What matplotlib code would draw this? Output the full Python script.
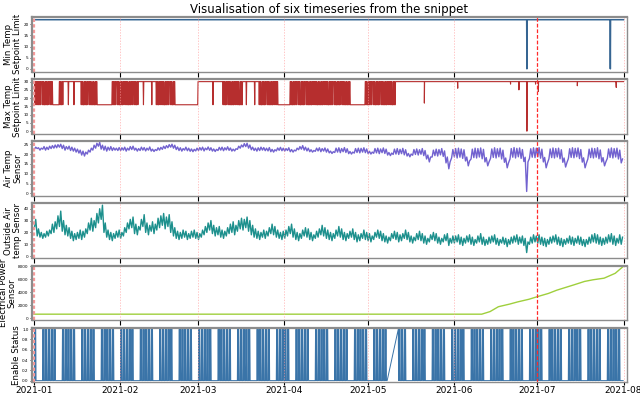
import numpy as np
import pandas as pd
import matplotlib
matplotlib.use("Agg")
import matplotlib.pyplot as plt
import matplotlib.dates as mdates

# ---- data (Jan 1 2021 .. Jul 31 2021) ----
start = "2021-01-01"
n_days = 212

min_temp_level = 22.0
min_temp_drops = ["2021-06-27 06:00", "2021-07-27 06:00"]

# max temp day codes per month: H = high all day, L = low all day,
# T = toggling during the day, S = a single drop
max_codes = {
    1: "STSTTSTLLTSHSHSHHTTSTTTLLLLLTST",
    2: "TSTTSTSHSHHSHTSTTSTTLLLLLLLLHH",
    3: "HHHSHHHTSTTSTTHSHHSHTTSTTSTLLLL",
    4: "TTSTTSTTSTTTSTTSTTSTTTLLLLLTTST",
    5: "TSTTSTTHHHHHHHHHHHHHHHHHHHHHHHH",
    6: "HHHHHHHHHHHHHHHHHHHHHHHHHHHHHH",
    7: "HHHHHHHHHHHHHHHHHHHHHHHHHHHHHHH",
}
max_high, max_low = 30.0, 16.0
day_slots = [0, 3, 6, 9, 12, 15, 18, 21]
max_patterns = {
    "H": [30, 30, 30, 30, 30, 30, 30, 30],
    "L": [16, 16, 16, 16, 16, 16, 16, 16],
    "T": [16, 30, 30, 16, 30, 30, 16, 16],
    "S": [30, 30, 30, 16, 30, 30, 30, 30],
}
# isolated dips later in the year: (time, lowest value)
max_dips = [("2021-05-21 09:00", 17), ("2021-06-02 09:00", 26), ("2021-06-21 09:00", 28.5),
            ("2021-06-24 09:00", 25), ("2021-06-27 06:00", 0), ("2021-06-30 09:00", 28.5),
            ("2021-07-01 09:00", 24), ("2021-07-15 09:00", 27.5), ("2021-07-29 09:00", 26.5)]

air_temp = """
22.5 23.5 22.8 23.2 22 23 22.5 23.8 22 23.5 22.3 24 22.8 24.3 23 24.6 23.2 24.8 23.5 25
22.8 24.5 22 23.8 22.5 24 21.8 23.5 21.5 23 21 22.5 20.5 22 19.5 21.5 19 21 20 22
21 23 22 24.5 23 25.5 24 26 22.5 24.5 22 24 21.5 23.5 22 23.8 21.8 23.2 22 23 21.8 23.3
21.8 23.2 22 23.5 21.5 23 22 23.8 22.3 24 22 23 21.5 22.8 21.8 23.5 22 23.3 21.6 23
22 23.6 21.5 22.5 21.3 22.3 21.8 23.2 22 23.4 22.4 24 22.8 24.3 23.2 24.8 23.5 25 23 24.5
22.3 23.6 21.8 23.2 21.5 22.8 22 23.5 21.7 23 21.4 22.6 21.2 22.4 21.6 23
21.8 23.3 22 23.5 21.6 23 22.2 23.6 21.9 23.2 21.5 22.6 21.3 22.4 21.8 23.4 22 23.5 21.7 23.2
22.1 23.7 21.9 23.1 21.5 22.5 21.6 22.7 22.4 24 23 24.6 23.6 25.3 23.8 25.5 23 24.6 22.2 23.5
21.8 23 21.5 23.2 21.8 23.5 22 23.3 21.7 23 21.6 23.3 21.2 22.4 21 22.2 21.6 23.1 21.9 23.4 21.7 23
21.5 22.8 21.8 23.2 21.2 22.3 21 22 21.6 23 22.2 23.8 22.5 24.3 22 23.5 21.6 23 21.2 22.2
21 21.8 21.4 23 21.6 23.2 21.2 22.8 21.5 23.1 21 22.6 20.6 21.5 20.3 21.2 20.8 23 21 23.2
20.7 22.8 21.2 23.3 20.8 22.7 20.2 21.3 20 21 20.5 22.8 20.8 23 20.6 22.9 21 23.2 20.7 22.6
20.2 21.4 20 21 20.4 22.8 20.6 23 20.2 22.6 20.7 23.1 20.3 22.5 19.5 20.8 19.2 20.5 19.8 22.5
20 22.8 19.8 22.4 20.2 22.9 19.6 22.2 19 20.3 18.6 20 19.4 22.3 19.8 22.6 19.5 22.2 19.9 22.8
19.2 21.8 17.5 19.5 16 18.5 18.5 22 19.2 22.5 19 22.3 19.6 22.8 18.8 21.6 15.5 18.5 12.5 16 18 22.3
18.5 22.8 18 23 18.4 22.6 17.8 22.2 16.5 18.5 14 16.5 17.5 22.5 18.2 23 18 22.8 18.5 23.1
17.6 22.4 16 18.2 14 16 17.8 22.6 18.3 23.2 18 22.7 18.6 23 17.5 22 15.8 18 13 15.5
17.5 22.8 18.4 23.3 18 22.9 18.6 23.1 17.8 22.3 16.2 18.4 1 16 17.8 22.7 18.4 23.2 18.2 23
18.6 23.3 17.9 22.5 16 18.3 13 15.4 17.6 22.6 18.2 23.1 18 22.8 18.5 23 17.6 22.2 15.8 18
13.4 15.6 17.7 22.7 18.3 23.2 18.1 22.9 18.6 23.1 17.7 22.3 15.9 18.1 13 15.3 17.5 22.5 18.2 23
18 22.8 18.4 23.2 17.6 22.1 16 18.2 14 16 17.8 22.6 18.3 23.1 18 22.8 18.5 23 17.5 22 15.5 17.5
"""

outside_temp = """
24 31 17 23 16 20 15 19 16 21 17 22 19 27 20 29 23 34 25 38 21 30 18 26 17 24 15 21 13 19
14 20 15 22 14 21 16 23 19 28 22 32 21 30 24 36 28 40 31 43 20 28 16 22 14 20 13 19 15 21 16 22
15 20 17 24 20 28 23 31 24 33 19 27 18 25 22 31 25 35 20 28 18 26 21 29 19 27 22 32 24 34
26 36 23 33 25 35 20 29 17 24 15 21 14 20 15 22 16 21 14 19 15 21 16 22 15 20
14 19 16 22 18 25 20 28 22 30 19 26 17 24 18 25 16 22 15 21 17 24 19 27 20 29 18 26 21 30
23 32 22 31 24 33 21 30 18 26 16 23 15 21 14 20 16 22 15 21 17 24 19 27 18 25 16 22 15 20 14 21
15 22 17 25 19 27 16 23 14 20 13 19 15 22 17 24 16 23 14 20 13 18 15 21 16 23 18 26 17 24
15 22 14 20 13 19 15 22 17 25 16 23 14 20 13 19 15 21 16 23 14 20 12 18 13 19 15 22 14 20
13 19 12 17 14 20 16 22 15 21 13 19 12 17 11 16 13 19 15 21 14 20 12 18 13 19 15 22 14 20
12 17 11 16 13 19 14 21 13 19 11 17 10 15 12 18 14 20 13 19 11 16 10 15 12 18 13 19 9 15 11 17
11 17 12 18 10 16 9 15 11 17 12 18 10 16 9 14 11 17 12 19 10 16 9 14 10 16 11 17 12 18
10 15 9 14 11 16 10 15 8 14 10 16 11 17 12 18 10 16 11 17 9 15 3 12 10 16 11 18 12 17
11 18 10 16 9 15 8 14 10 16 11 17 12 18 10 16 9 15 8 14 10 15 11 17 10 16 9 15 11 17 10 16
9 14 8 14 10 16 11 18 12 19 11 18 10 16 9 15 10 16 11 18 12 19 10 17 9 15 11 18 10 16
"""

power_dates = ["2021-01-01", "2021-06-11", "2021-06-14", "2021-06-17", "2021-06-21",
               "2021-06-24", "2021-06-28", "2021-07-01", "2021-07-05", "2021-07-08",
               "2021-07-11", "2021-07-14", "2021-07-18", "2021-07-21", "2021-07-25",
               "2021-07-29", "2021-08-01"]
power_values = [600, 600, 1000, 1750, 2150, 2500, 2900, 3300, 3800, 4300,
                4700, 5100, 5650, 5900, 6150, 6900, 8000]

# enable status: weekdays on (toggling), weekends off; no data May 8 - May 11
status_on_pattern = [0, 0, 1, 0, 1, 1, 0, 0]
status_gap = ("2021-05-08 01:00", "2021-05-12 00:00")

month_lines = ["2021-02-01", "2021-03-01", "2021-04-01", "2021-05-01", "2021-06-01", "2021-08-01"]
snippet_start = "2021-01-01"
snippet_mark = "2021-07-01"

titles = ["Min Temp\nSetpoint Limit", "Max Temp\nSetpoint Limit", "Air Temp\nSensor",
          "Outside Air\ntemp Sensor", "Electrical Power\nSensor", "Enable Status"]
colors = ["#2b5d8c", "#b22222", "#6a5acd", "#108a87", "#9acd32", "#2f6ca3"]

# ---- build series ----
days = pd.date_range(start, periods=n_days, freq="D")
end = pd.Timestamp("2021-08-01")


def with_dips(t_list, v_list, dips, level):
    t_list, v_list = list(t_list), list(v_list)
    for d, low in dips:
        t = pd.Timestamp(d)
        t_list += [t - pd.Timedelta(hours=2), t, t + pd.Timedelta(hours=2)]
        v_list += [level, low, level]
    order = np.argsort(t_list)
    return [t_list[i] for i in order], [v_list[i] for i in order]


# min temp
mt_t, mt_v = with_dips([pd.Timestamp(start), end], [min_temp_level] * 2,
                       [(d, 0) for d in min_temp_drops], min_temp_level)

# max temp
codes = "".join(max_codes[m] for m in range(1, 8))
mx_t, mx_v = [], []
for day, c in zip(days, codes):
    for h, v in zip(day_slots, max_patterns[c]):
        mx_t.append(day + pd.Timedelta(hours=h))
        mx_v.append(v)
mx_t.append(end)
mx_v.append(max_high)
mx_t, mx_v = with_dips(mx_t, mx_v, max_dips, max_high)

# air / outside: two readings per day
air = [float(x) for x in air_temp.split()]
out = [float(x) for x in outside_temp.split()]
half_t = [day + pd.Timedelta(hours=h) for day in days for h in (4, 15)]
air_t = half_t[:len(air)]
out_t = half_t[:len(out)]

# status
g0, g1 = pd.Timestamp(status_gap[0]), pd.Timestamp(status_gap[1])
st_t, st_v = [], []
for day in days:
    pat = status_on_pattern if day.dayofweek < 5 else [0] * len(day_slots)
    for h, v in zip(day_slots, pat):
        t = day + pd.Timedelta(hours=h)
        if g0 < t < g1:
            continue
        if t == g1:
            v = 1
        st_t.append(t)
        st_v.append(v)

series = [
    (mt_t, mt_v), (mx_t, mx_v), (air_t, air), (out_t, out),
    (pd.to_datetime(power_dates), power_values), (st_t, st_v),
]
ylims = [(-1.2, 23.2), (-1.5, 31.5), (-1.2, 26.5), (-1.5, 44.5), (-300, 8100), (-0.03, 1.03)]
yticks = [[0, 5, 10, 15, 20], [0, 5, 10, 15, 20, 25, 30], [0, 5, 10, 15, 20, 25],
          [0, 10, 20, 30, 40], [0, 2000, 4000, 6000, 8000], [0, 0.2, 0.4, 0.6, 0.8, 1.0]]
line_widths = [1.1, 0.8, 1.0, 1.0, 1.0, 0.7]

# ---- plot ----
fig, axes = plt.subplots(6, 1, figsize=(6.4, 3.96), dpi=100, sharex=True)
fig.subplots_adjust(left=0.05, right=0.979, top=0.957, bottom=0.035, hspace=0.14)

for i, ax in enumerate(axes):
    t, v = series[i]
    ax.plot(t, v, color=colors[i], lw=line_widths[i], alpha=0.95)
    ax.set_ylim(*ylims[i])
    ax.set_yticks(yticks[i])
    if i == 5:
        ax.set_yticklabels([f"{y:.1f}" for y in yticks[i]])
    ax.tick_params(axis="y", labelsize=3, length=1.5, width=0.5, pad=1)
    ax.set_ylabel(titles[i], fontsize=6.2, labelpad=1, linespacing=0.95)
    for d in month_lines:
        ax.axvline(pd.Timestamp(d), color="#ff9c9c", lw=0.5, ls=(0, (2, 2)), alpha=0.8)
    ax.axvline(pd.Timestamp(snippet_start), color="#f59a9a", lw=1.6, ls=(0, (1.5, 1)))
    ax.axvline(pd.Timestamp(snippet_mark), color="#ff2a2a", lw=0.9, ls=(0, (3, 1.5)))
    for s in ax.spines.values():
        s.set_color("#8c8c8c")
        s.set_linewidth(1.0)
    ax.spines["top"].set_linewidth(1.6)
    ax.spines["left"].set_linewidth(1.6)

axes[0].set_xlim(pd.Timestamp("2021-01-01") - pd.Timedelta(hours=17),
                 pd.Timestamp("2021-08-01") + pd.Timedelta(hours=26))
axes[-1].xaxis.set_major_locator(mdates.MonthLocator())
axes[-1].xaxis.set_major_formatter(mdates.DateFormatter("%Y-%m"))
axes[-1].tick_params(axis="x", labelsize=6.5, length=2, pad=0.5)

axes[0].set_title("Visualisation of six timeseries from the snippet", fontsize=8.5, pad=3)

plt.savefig("out.png", dpi=100, facecolor="white")
